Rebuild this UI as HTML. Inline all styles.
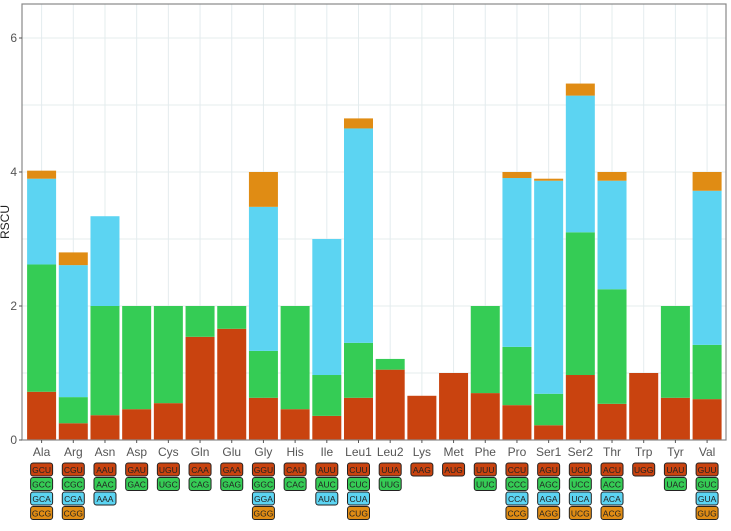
<!DOCTYPE html>
<html><head><meta charset="utf-8"><style>
body{margin:0;background:#fff;}
svg{display:block;font-family:"Liberation Sans",sans-serif;}
</style></head><body>
<svg id="chart" width="731" height="531"></svg>
<script>
const categories=["Ala","Arg","Asn","Asp","Cys","Gln","Glu","Gly","His","Ile","Leu1","Leu2","Lys","Met","Phe","Pro","Ser1","Ser2","Thr","Trp","Tyr","Val"];
const seriesRed=[0.72,0.25,0.37,0.46,0.55,1.54,1.66,0.63,0.46,0.36,0.63,1.05,0.66,1.0,0.7,0.52,0.22,0.97,0.54,1.0,0.63,0.61];
const seriesGreen=[1.90,0.39,1.63,1.54,1.45,0.46,0.34,0.70,1.54,0.61,0.82,0.16,0,0,1.3,0.87,0.47,2.13,1.71,0,1.37,0.81];
const seriesBlue=[1.28,1.97,1.34,0,0,0,0,2.15,0,2.03,3.20,0,0,0,0,2.52,3.18,2.04,1.62,0,0,2.30];
const seriesOrange=[0.12,0.19,0,0,0,0,0,0.52,0,0,0.15,0,0,0,0,0.09,0.03,0.18,0.13,0,0,0.28];
const codons=[["GCU","GCC","GCA","GCG"],["CGU","CGC","CGA","CGG"],["AAU","AAC","AAA"],["GAU","GAC"],["UGU","UGC"],["CAA","CAG"],["GAA","GAG"],["GGU","GGC","GGA","GGG"],["CAU","CAC"],["AUU","AUC","AUA"],["CUU","CUC","CUA","CUG"],["UUA","UUG"],["AAG"],["AUG"],["UUU","UUC"],["CCU","CCC","CCA","CCG"],["AGU","AGC","AGA","AGG"],["UCU","UCC","UCA","UCG"],["ACU","ACC","ACA","ACG"],["UGG"],["UAU","UAC"],["GUU","GUC","GUA","GUG"]];
const yTicks=[0,2,4,6];
const colors=["#c9430f","#35cc55","#5cd4f2","#e08c14"];
const NS="http://www.w3.org/2000/svg";
const svg=document.getElementById("chart");
const L=22,R=726,T=4,B=440,x0=41.6,step=31.69,bw=29;
const y=v=>B-v*67;
const x=i=>x0+i*step;
function mk(t,a,p){const e=document.createElementNS(NS,t);for(const k in a)e.setAttribute(k,a[k]);(p||svg).appendChild(e);return e;}
for(let v=1;v<=6.5;v+=1){const g=mk("line",{x1:L,x2:R,y1:y(v),y2:y(v),stroke:"#e4ecee","stroke-width":1});

}
categories.forEach((c,i)=>{const g=mk("line",{x1:x(i),x2:x(i),y1:T,y2:B,stroke:"#e4ecee","stroke-width":1});

});
const series=[seriesRed,seriesGreen,seriesBlue,seriesOrange];
categories.forEach((c,i)=>{let acc=0;series.forEach((s,k)=>{const v=s[i];if(v>0){const r=mk("rect",{x:x(i)-bw/2,y:y(acc+v),width:bw,height:y(acc)-y(acc+v),fill:colors[k]});

}acc+=v;});});
const f=mk("rect",{x:L,y:T,width:R-L,height:B-T,fill:"none",stroke:"#888","stroke-width":1.2});


yTicks.forEach(v=>{mk("line",{x1:L-3,x2:L,y1:y(v),y2:y(v),stroke:"#555"});
const t=mk("text",{x:L-5,y:y(v)+4,"text-anchor":"end","font-size":12,fill:"#555"});t.textContent=v;

});
const yt=mk("text",{x:9,y:222,"text-anchor":"middle","font-size":12,fill:"#222",transform:"rotate(-90 9 222)"});yt.textContent="RSCU";


categories.forEach((c,i)=>{mk("line",{x1:x(i),x2:x(i),y1:B,y2:B+3,stroke:"#555"});
const t=mk("text",{x:x(i),y:456,"text-anchor":"middle","font-size":12,fill:"#555"});t.textContent=c;


codons[i].forEach((cd,k)=>{const by=463+k*14.5;
const r=mk("rect",{x:x(i)-11,y:by,width:22,height:13,rx:2.5,fill:colors[k],stroke:"#222","stroke-width":1});


const tt=mk("text",{x:x(i),y:by+9.8,"text-anchor":"middle","font-size":8.5,fill:"#222"});tt.textContent=cd;

});});
</script>
</body></html>
